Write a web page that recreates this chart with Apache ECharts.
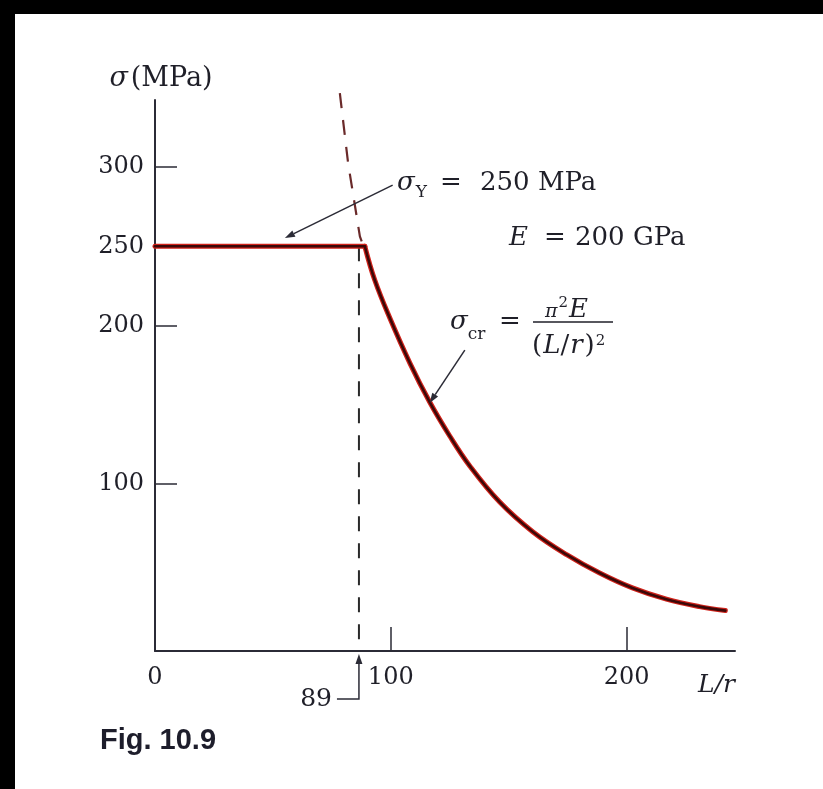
<!DOCTYPE html>
<html><head><meta charset="utf-8">
<script src="https://cdn.jsdelivr.net/npm/echarts@6/dist/echarts.min.js"></script>
<style>html,body{margin:0;padding:0;background:#fff;}#c{width:823px;height:789px;}</style>
</head><body><div id="c"></div>
<script>
// ---- data ----
const xLabelValues = [0, 100, 200];
const xTickValues = [100, 200];
const yLabelValues = [100, 200, 250, 300];
const yTickValues = [100, 200, 300];
// yield plateau (sigma_Y = 250 MPa) up to L/r = 89
const plateauX = [0, 89];
const plateauY = [250, 250];
// Euler curve as drawn (L/r, MPa)
const eulerX = [89, 93.2, 99.6, 108.1, 116.5, 125.0, 133.5, 146.2, 160.2, 174.6, 188.6, 202.5, 216.9, 230.9, 241.9];
const eulerY = [250, 228.7, 204.7, 176.3, 151.7, 130.3, 111.4, 88.6, 69.9, 55.4, 43.8, 34.4, 27.3, 22.6, 20.1];
// dashed continuation of the Euler curve above the plateau
const eulerDashX = [78.4, 81.9, 86.9, 88.4];
const eulerDashY = [346.6, 302.5, 256.2, 250];
// vertical dashed line at the transition slenderness
const criticalLineX = [86.5, 86.5];
const criticalLineY = [250, -5.4];
// annotation anchors (data space)
const sigmaYArrow = [[100.8, 288.6], [55.1, 255.2]];
const sigmaCrArrow = [[131.4, 184.5], [116.5, 151.1]];

const xMin = 0, xMax = 246, yMin = -5.4, yMax = 342.3;

const pairs = (xs, ys) => xs.map((x, i) => [x, ys[i]]);
const plateau = pairs(plateauX, plateauY);
const euler = pairs(eulerX, eulerY);
const dashTop = pairs(eulerDashX, eulerDashY);
const critical = pairs(criticalLineX, criticalLineY);

const SERIF = '"DejaVu Serif", serif';
const INK = '#1f1f28';
const AXIS = '#2b2b36';
const RED = '#d0221a', CORE = '#3c0808';

const chart = echarts.init(document.getElementById('c'), null, {renderer: 'canvas'});
const curve = (name, data, color, width, z, smooth) => ({
  type: 'line', name: name, data: data, symbol: 'none', silent: true, z: z,
  smooth: smooth ? 0.4 : false,
  lineStyle: {color: color, width: width, cap: 'round', join: 'round'}
});
chart.setOption({
  backgroundColor: '#ffffff',
  animation: false,
  grid: {left: 155, right: 88, top: 100, bottom: 138, containLabel: false},
  xAxis: {
    type: 'value', min: xMin, max: xMax,
    name: 'L/r', nameLocation: 'end', nameGap: 0,
    nameTextStyle: {fontFamily: SERIF, fontStyle: 'italic', fontSize: 25, color: INK, align: 'right', verticalAlign: 'top', padding: [22, 0, 0, 0]},
    axisLine: {show: true, onZero: false, lineStyle: {color: AXIS, width: 2}},
    axisTick: {show: true, inside: true, length: 24, customValues: xTickValues, lineStyle: {color: AXIS, width: 1.5}},
    axisLabel: {show: true, customValues: xLabelValues, fontFamily: SERIF, fontSize: 24, color: INK, margin: 15},
    splitLine: {show: false}
  },
  yAxis: {
    type: 'value', min: yMin, max: yMax,
    name: '{i|σ}{n|(MPa)}', nameLocation: 'end', nameGap: 8,
    nameTextStyle: {color: INK, padding: [0, 0, 0, 12], rich: {
      i: {fontFamily: SERIF, fontStyle: 'italic', fontSize: 27, color: INK, padding: [0, 3, 0, 0]},
      n: {fontFamily: SERIF, fontSize: 27, color: INK}
    }},
    axisLine: {show: true, onZero: false, lineStyle: {color: AXIS, width: 2}},
    axisTick: {show: true, inside: true, length: 22, customValues: yTickValues, lineStyle: {color: AXIS, width: 1.5}},
    axisLabel: {show: true, customValues: yLabelValues, fontFamily: SERIF, fontSize: 24, color: INK, margin: 11},
    splitLine: {show: false}
  },
  series: [
    {type: 'line', name: 'critical', data: critical, symbol: 'none', clip: false, silent: true,
     lineStyle: {color: '#2a2a2a', width: 2, type: [15, 12]}, z: 2},
    {type: 'line', name: 'euler-dashed', data: dashTop, symbol: 'none', clip: false, silent: true,
     lineStyle: {color: '#6a2a2a', width: 2.2, type: [15, 12]}, z: 2},
    curve('plateau-outer', plateau, RED, 5, 3, false),
    curve('euler-outer', euler, RED, 5, 3, true),
    curve('plateau-inner', plateau, CORE, 2.6, 4, false),
    curve('euler-inner', euler, CORE, 2.6, 4, true)
  ]
});

function px(p) { return chart.convertToPixel({gridIndex: 0}, p); }
const ctx = document.createElement('canvas').getContext('2d');
function measure(t, font) { ctx.font = font; return ctx.measureText(t).width; }
function arrowEls(a, b, len, hw) {
  const dx = b[0] - a[0], dy = b[1] - a[1];
  const L = Math.hypot(dx, dy), ux = dx / L, uy = dy / L;
  const bx = b[0] - ux * len, by = b[1] - uy * len;
  return [
    {type: 'line', shape: {x1: a[0], y1: a[1], x2: bx, y2: by}, style: {stroke: AXIS, lineWidth: 1.5}, z: 10},
    {type: 'polygon', shape: {points: [[b[0], b[1]], [bx - uy * hw, by + ux * hw], [bx + uy * hw, by - ux * hw]]}, style: {fill: AXIS}, z: 10}
  ];
}
function txt(t, x, y, font, align) {
  return {type: 'text', z: 10, style: {text: t, x: x, y: y, font: font, fill: INK,
    textAlign: align || 'left', align: align || 'left', textVerticalAlign: 'middle', verticalAlign: 'middle'}};
}
const F = (s, it) => (it ? 'italic ' : '') + s + 'px "DejaVu Serif"';
// lay out a run of text pieces left to right
function run(x, y, pieces) {
  let cx = x;
  pieces.forEach(p => {
    const font = F(p.size, p.it);
    cx += (p.gap || 0);
    els.push(txt(p.t, cx, y + (p.dy || 0), font));
    cx += measure(p.t, font);
  });
  return cx;
}

const els = [];
els.push(...arrowEls(px(sigmaYArrow[0]), px(sigmaYArrow[1]), 10, 3.5));
els.push(...arrowEls(px(sigmaCrArrow[0]), px(sigmaCrArrow[1]), 10, 3.5));
// 89 marker
const base = px([criticalLineX[0], yMin]);
els.push({type: 'polyline', z: 10, shape: {points: [[base[0] - 22, base[1] + 48], [base[0], base[1] + 48], [base[0], base[1] + 12]]}, style: {stroke: AXIS, lineWidth: 1.5, fill: null}});
els.push({type: 'polygon', z: 10, shape: {points: [[base[0], base[1] + 3], [base[0] - 3.5, base[1] + 13], [base[0] + 3.5, base[1] + 13]]}, style: {fill: AXIS}});
els.push(txt('89', base[0] - 27, base[1] + 48, F(25), 'right'));

// sigma_Y = 250 MPa
run(397, 183, [{t: 'σ', size: 26, it: true}, {t: 'Y', size: 17, dy: 10, gap: 1}]);
els.push(txt('=', 440, 183, F(26)));
els.push(txt('250 MPa', 480, 183, F(26)));
// E = 200 GPa
els.push(txt('E', 509, 238, F(26, true)));
els.push(txt('=', 544, 238, F(26)));
els.push(txt('200 GPa', 575, 238, F(26)));
// sigma_cr = pi^2 E / (L/r)^2
run(450, 322, [{t: 'σ', size: 26, it: true}, {t: 'cr', size: 17, dy: 13, gap: 0}]);
els.push(txt('=', 499, 322, F(26)));
run(545, 310, [{t: 'π', size: 19, it: true, dy: 2}, {t: '2', size: 15, dy: -7, gap: 1}, {t: 'E', size: 26, it: true, gap: 1}]);
els.push({type: 'line', z: 10, shape: {x1: 533, y1: 322, x2: 613, y2: 322}, style: {stroke: INK, lineWidth: 1.6}});
run(532, 346, [{t: '(', size: 26}, {t: 'L', size: 26, it: true, gap: 1}, {t: '/', size: 26}, {t: 'r', size: 26, it: true, gap: 1}, {t: ')', size: 26, gap: 2}, {t: '2', size: 15, dy: -5, gap: 1}]);
// figure caption
els.push({type: 'text', z: 10, style: {text: 'Fig. 10.9', x: 100, y: 741, font: 'bold 29px "Liberation Sans", Arial, sans-serif', fill: '#1d1d2b', textAlign: 'left', align: 'left', textVerticalAlign: 'middle', verticalAlign: 'middle'}});
// black scan border
els.push({type: 'rect', z: 20, shape: {x: 0, y: 0, width: 823, height: 14}, style: {fill: '#000'}});
els.push({type: 'rect', z: 20, shape: {x: 0, y: 0, width: 15, height: 789}, style: {fill: '#000'}});

chart.setOption({graphic: {elements: els}});
</script></body></html>
